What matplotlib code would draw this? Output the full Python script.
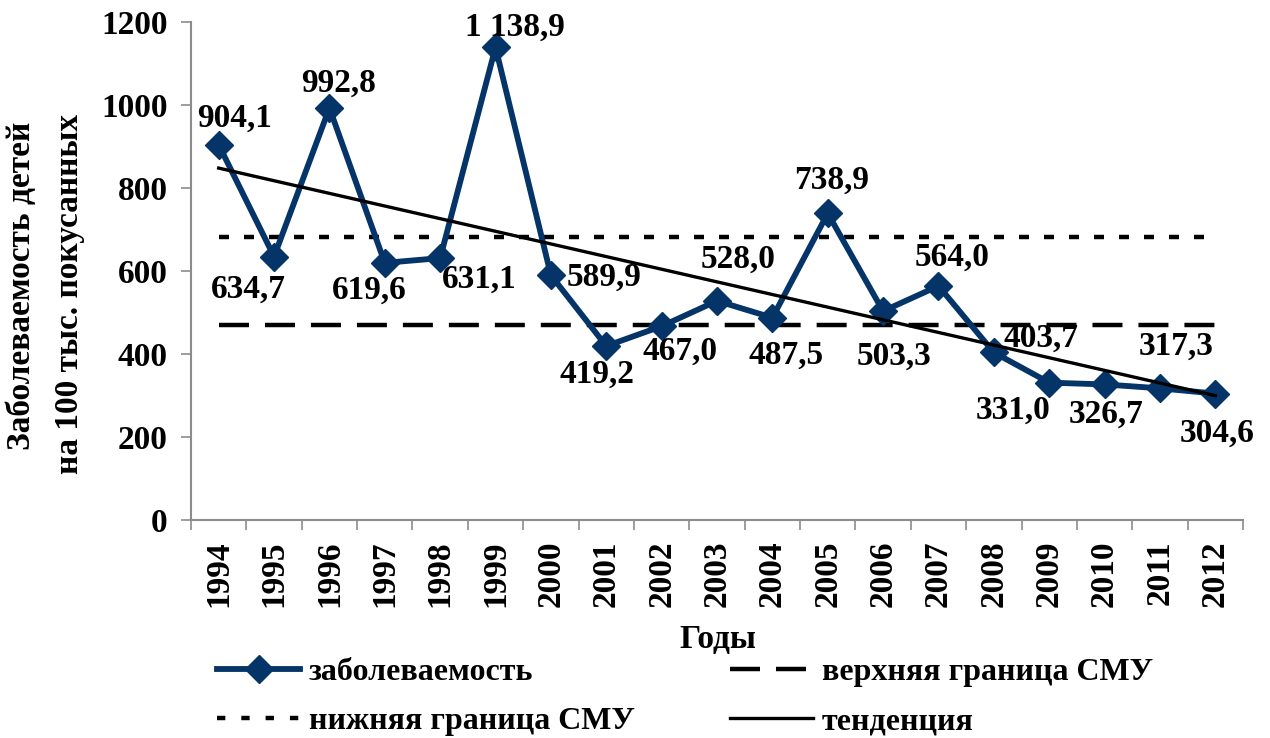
import numpy as np
import matplotlib
matplotlib.use("Agg")
import matplotlib.pyplot as plt
from matplotlib.lines import Line2D

plt.rcParams['font.family'] = ['Liberation Serif', 'DejaVu Serif']
plt.rcParams['font.weight'] = 'bold'
plt.rcParams['lines.scale_dashes'] = False

years = ['1994', '1995', '1996', '1997', '1998', '1999', '2000', '2001', '2002', '2003',
         '2004', '2005', '2006', '2007', '2008', '2009', '2010', '2011', '2012']
incidence = [904.1, 634.7, 992.8, 619.6, 631.1, 1138.9, 589.9, 419.2, 467.0, 528.0,
             487.5, 738.9, 503.3, 564.0, 403.7, 331.0, 326.7, 317.3, 304.6]
upper_level = 470.0   # long-dash line
lower_level = 682.0   # dotted line
yticks = [0, 200, 400, 600, 800, 1000, 1200]

# label offsets in pixels (dx right, dy down)
label_offsets = [(16, -27), (-26, 33), (9, -25), (-16, 27), (39, 21), (19, -20), (53, 2),
                 (-9, 28), (18, 25), (21, -42), (14, 38), (4, -33), (11, 45), (14, -29),
                 (47, -14), (-36, 28), (2, 30), (16, -42), (2, 40)]

navy = '#043468'
fs = 24
lfs = 23

fig = plt.figure(figsize=(12.7, 7.38), dpi=100)
ax = fig.add_axes([191/1270, 1-520/738, (1243-191)/1270, (520-22)/738])

x = np.arange(len(years))
ax.plot(x, incidence, color=navy, lw=4.2, marker='D', markersize=14.5, zorder=4)
ax.plot([x[0], x[-1]], [lower_level, lower_level], color='black', lw=3.2,
        dashes=(7.2, 10.8), zorder=2)
ax.plot([x[0], x[-1]], [upper_level, upper_level], color='black', lw=3.2,
        dashes=(21.6, 11.5), zorder=2)
coef = np.polyfit(x, incidence, 1)
ax.plot([x[0], x[-1]], np.polyval(coef, [x[0], x[-1]]), color='black', lw=2.4, zorder=5)

def fmt(v):
    s = f"{v:,.1f}"
    return s.replace(',', ' ').replace('.', ',')

for xi, v, (dx, dy) in zip(x, incidence, label_offsets):
    ax.annotate(fmt(v), (xi, v), xytext=(dx, -dy), textcoords='offset pixels',
                ha='center', va='center', fontsize=fs, fontweight='bold', zorder=6)

ax.set_xlim(-0.5, len(years) - 0.5)
ax.set_ylim(0, 1200)
ax.set_yticks(yticks)
ax.set_yticklabels([str(t) for t in yticks], fontsize=fs, fontweight='bold')
ax.set_xticks(np.arange(len(years) + 1) - 0.5)
ax.set_xticklabels([])
ax.set_xticks(x, minor=True)
ax.set_xticklabels(years, minor=True, rotation=90, fontsize=fs, fontweight='bold')
ax.tick_params(axis='x', which='major', length=7, width=1.2, color='#8c8c8c', direction='out')
ax.tick_params(axis='x', which='minor', length=0, pad=15)
ax.tick_params(axis='y', length=7, width=1.2, color='#8c8c8c', direction='out', pad=10)

for s in ['top', 'right']:
    ax.spines[s].set_visible(False)
for s in ['left', 'bottom']:
    ax.spines[s].set_color('#8c8c8c')
    ax.spines[s].set_linewidth(1.5)

fig.text(22/1270, 1-286/738, 'Заболеваемость детей', rotation=90, ha='center', va='center',
         fontsize=fs, fontweight='bold')
fig.text(70/1270, 1-294/738, 'на 100 тыс. покусанных', rotation=90, ha='center', va='center',
         fontsize=fs, fontweight='bold')
fig.text(718/1270, 1-640/738, 'Годы', ha='center', va='center', fontsize=fs, fontweight='bold')

h_inc = Line2D([], [], color=navy, lw=4.2, marker='D', markersize=14.5)
h_low = Line2D([], [], color='black', lw=3.2, dashes=(6, 11.5))
h_up = Line2D([], [], color='black', lw=3.2, dashes=(21.6, 11.5))
h_tr = Line2D([], [], color='black', lw=2.4)

common = dict(frameon=False, handlelength=2.6, handletextpad=0.27,
              borderpad=0, borderaxespad=0, labelspacing=0.62,
              prop={'weight': 'bold', 'size': lfs})
fig.legend([h_inc, h_low], ['заболеваемость', 'нижняя граница СМУ'],
           loc='center left', bbox_to_anchor=(217/1270, 1-697/738), **common)
fig.legend([h_up, h_tr], ['верхняя граница СМУ', 'тенденция'],
           loc='center left', bbox_to_anchor=(730/1270, 1-697/738), **common)

fig.savefig('out.png', dpi=100)
